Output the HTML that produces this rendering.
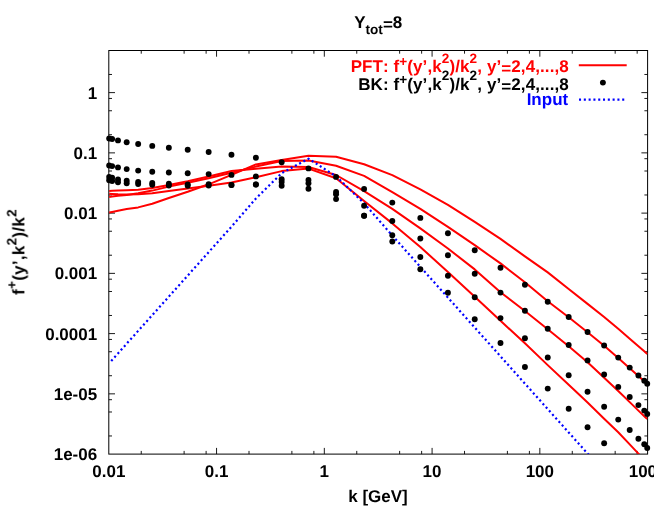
<!DOCTYPE html>
<html><head><meta charset="utf-8"><title>plot</title>
<style>html,body{margin:0;padding:0;background:#fff;}body{width:654px;height:506px;overflow:hidden;position:relative;font-family:"Liberation Sans",sans-serif;}</style>
</head><body>
<svg width="654" height="506" viewBox="0 0 654 506" style="position:absolute;left:0;top:0">
<defs><clipPath id="c"><rect x="108.80" y="50.50" width="538.80" height="403.60"/></clipPath></defs>
<rect x="108.8" y="50.5" width="538.80" height="403.60" fill="none" stroke="#000" stroke-width="1"/>
<path d="M141.24 454.1 v-3.2 M141.24 50.5 v3.2 M184.12 454.1 v-3.2 M184.12 50.5 v3.2 M206.12 454.1 v-3.2 M206.12 50.5 v3.2 M216.56 454.1 v-6.2 M216.56 50.5 v6.2 M249.00 454.1 v-3.2 M249.00 50.5 v3.2 M291.88 454.1 v-3.2 M291.88 50.5 v3.2 M313.88 454.1 v-3.2 M313.88 50.5 v3.2 M324.32 454.1 v-6.2 M324.32 50.5 v6.2 M356.76 454.1 v-3.2 M356.76 50.5 v3.2 M399.64 454.1 v-3.2 M399.64 50.5 v3.2 M421.64 454.1 v-3.2 M421.64 50.5 v3.2 M432.08 454.1 v-6.2 M432.08 50.5 v6.2 M464.52 454.1 v-3.2 M464.52 50.5 v3.2 M507.40 454.1 v-3.2 M507.40 50.5 v3.2 M529.40 454.1 v-3.2 M529.40 50.5 v3.2 M539.84 454.1 v-6.2 M539.84 50.5 v6.2 M572.28 454.1 v-3.2 M572.28 50.5 v3.2 M615.16 454.1 v-3.2 M615.16 50.5 v3.2 M637.16 454.1 v-3.2 M637.16 50.5 v3.2 M108.8 435.96 h3.2 M647.6 435.96 h-3.2 M108.8 411.99 h3.2 M647.6 411.99 h-3.2 M108.8 399.69 h3.2 M647.6 399.69 h-3.2 M108.8 393.85 h6.2 M647.6 393.85 h-6.2 M108.8 375.72 h3.2 M647.6 375.72 h-3.2 M108.8 351.74 h3.2 M647.6 351.74 h-3.2 M108.8 339.44 h3.2 M647.6 339.44 h-3.2 M108.8 333.60 h6.2 M647.6 333.60 h-6.2 M108.8 315.47 h3.2 M647.6 315.47 h-3.2 M108.8 291.49 h3.2 M647.6 291.49 h-3.2 M108.8 279.19 h3.2 M647.6 279.19 h-3.2 M108.8 273.36 h6.2 M647.6 273.36 h-6.2 M108.8 255.22 h3.2 M647.6 255.22 h-3.2 M108.8 231.24 h3.2 M647.6 231.24 h-3.2 M108.8 218.95 h3.2 M647.6 218.95 h-3.2 M108.8 213.11 h6.2 M647.6 213.11 h-6.2 M108.8 194.97 h3.2 M647.6 194.97 h-3.2 M108.8 171.00 h3.2 M647.6 171.00 h-3.2 M108.8 158.70 h3.2 M647.6 158.70 h-3.2 M108.8 152.86 h6.2 M647.6 152.86 h-6.2 M108.8 134.72 h3.2 M647.6 134.72 h-3.2 M108.8 110.75 h3.2 M647.6 110.75 h-3.2 M108.8 98.45 h3.2 M647.6 98.45 h-3.2 M108.8 92.61 h6.2 M647.6 92.61 h-6.2 M108.8 74.48 h3.2 M647.6 74.48 h-3.2" stroke="#000" stroke-width="0.9" fill="none"/>
<g clip-path="url(#c)" fill="none">
<path d="M109.17 212.40 L112.12 211.90 L117.98 210.80 L126.69 209.10 L138.16 207.40 L152.26 203.80 L168.84 198.00 L187.71 191.80 L208.66 184.30 L231.47 174.80 L255.89 164.40 L281.66 159.90 L308.47 155.80 L336.06 156.80 L364.10 164.30 L392.30 175.10 L420.34 189.40 L447.93 204.80 L474.74 221.90 L500.51 238.90 L524.93 256.40 L547.74 272.40 L568.69 289.00 L587.56 303.90 L604.14 317.00 L618.24 328.80 L629.71 338.70 L638.42 346.30 L644.28 351.30 L647.23 353.90" stroke="#ff0000" stroke-width="2" stroke-linejoin="round"/>
<path d="M109.17 196.90 L112.12 196.50 L117.98 195.70 L126.69 194.90 L138.16 193.30 L152.26 190.60 L168.84 186.60 L187.71 182.70 L208.66 178.20 L231.47 172.80 L255.89 166.60 L281.66 161.10 L308.47 160.40 L336.06 165.70 L364.10 175.90 L392.30 192.10 L420.34 208.80 L447.93 226.90 L474.74 245.20 L500.51 263.40 L524.93 282.20 L547.74 301.20 L568.69 317.20 L587.56 332.20 L604.14 345.70 L618.24 358.00 L629.71 368.20 L638.42 376.10 L644.28 381.30 L647.23 383.60" stroke="#ff0000" stroke-width="2" stroke-linejoin="round"/>
<path d="M109.17 190.90 L112.12 190.80 L117.98 190.60 L126.69 190.20 L138.16 189.70 L152.26 188.10 L168.84 185.00 L187.71 181.30 L208.66 176.50 L231.47 171.00 L255.89 168.80 L281.66 166.50 L308.47 167.00 L336.06 175.00 L364.10 191.10 L392.30 208.90 L420.34 228.40 L447.93 248.50 L474.74 269.40 L500.51 292.20 L524.93 311.00 L547.74 329.20 L568.69 346.20 L587.56 362.20 L604.14 377.80 L618.24 391.00 L629.71 402.10 L638.42 410.60 L644.28 416.30 L647.23 419.00" stroke="#ff0000" stroke-width="2" stroke-linejoin="round"/>
<path d="M109.17 193.70 L112.12 193.90 L117.98 194.30 L126.69 194.40 L138.16 194.30 L152.26 193.20 L168.84 191.00 L187.71 188.60 L208.66 185.70 L231.47 182.40 L255.89 177.30 L281.66 171.10 L308.47 168.60 L336.06 178.30 L364.10 201.00 L392.30 223.40 L420.34 247.00 L447.93 272.00 L474.74 296.80 L500.51 320.80 L524.93 343.30 L547.74 365.10 L568.69 384.70 L587.56 402.60 L604.14 418.70 L618.24 432.30 L629.71 444.40 L638.42 453.60 L644.28 459.80 L647.23 462.90" stroke="#ff0000" stroke-width="2" stroke-linejoin="round"/>
<path d="M111.20 360.98 L112.12 359.96 L117.98 353.41 L126.69 343.68 L138.16 330.88 L152.26 315.14 L168.84 296.63 L187.71 275.56 L208.66 252.17 L231.47 226.70 L255.89 198.50 L281.66 173.20 L308.47 158.70 L336.06 176.30 L364.10 203.30 L392.30 235.52 L420.34 266.83 L447.93 297.63 L474.74 327.57 L500.51 356.33 L524.93 383.60 L547.74 409.07 L568.69 432.47 L587.56 453.53 L604.14 472.04 L618.24 487.78 L629.71 500.59 L638.42 510.32 L644.28 516.86 L647.23 520.15" stroke="#0000ff" stroke-width="2.2" stroke-dasharray="2.05 2.75"/>
</g>
<g fill="#000"><circle cx="109.17" cy="138.50" r="2.95"/><circle cx="112.12" cy="139.00" r="2.95"/><circle cx="117.98" cy="140.40" r="2.95"/><circle cx="126.69" cy="142.20" r="2.95"/><circle cx="138.16" cy="144.00" r="2.95"/><circle cx="152.26" cy="145.90" r="2.95"/><circle cx="168.84" cy="147.80" r="2.95"/><circle cx="187.71" cy="149.70" r="2.95"/><circle cx="208.66" cy="152.00" r="2.95"/><circle cx="231.47" cy="154.70" r="2.95"/><circle cx="255.89" cy="157.80" r="2.95"/><circle cx="281.66" cy="162.20" r="2.95"/><circle cx="308.47" cy="168.40" r="2.95"/><circle cx="336.06" cy="176.90" r="2.95"/><circle cx="364.10" cy="189.00" r="2.95"/><circle cx="392.30" cy="202.60" r="2.95"/><circle cx="420.34" cy="217.90" r="2.95"/><circle cx="447.93" cy="233.20" r="2.95"/><circle cx="474.74" cy="250.30" r="2.95"/><circle cx="500.51" cy="267.80" r="2.95"/><circle cx="524.93" cy="284.70" r="2.95"/><circle cx="547.74" cy="301.70" r="2.95"/><circle cx="568.69" cy="317.00" r="2.95"/><circle cx="587.56" cy="332.00" r="2.95"/><circle cx="604.14" cy="345.50" r="2.95"/><circle cx="618.24" cy="357.60" r="2.95"/><circle cx="629.71" cy="367.60" r="2.95"/><circle cx="638.42" cy="375.50" r="2.95"/><circle cx="644.28" cy="380.80" r="2.95"/><circle cx="647.23" cy="383.80" r="2.95"/><circle cx="109.17" cy="165.50" r="2.95"/><circle cx="112.12" cy="166.10" r="2.95"/><circle cx="117.98" cy="167.40" r="2.95"/><circle cx="126.69" cy="169.10" r="2.95"/><circle cx="138.16" cy="170.60" r="2.95"/><circle cx="152.26" cy="171.70" r="2.95"/><circle cx="168.84" cy="172.50" r="2.95"/><circle cx="187.71" cy="173.30" r="2.95"/><circle cx="208.66" cy="174.10" r="2.95"/><circle cx="231.47" cy="174.90" r="2.95"/><circle cx="255.89" cy="176.40" r="2.95"/><circle cx="281.66" cy="179.20" r="2.95"/><circle cx="308.47" cy="180.00" r="2.95"/><circle cx="336.06" cy="192.00" r="2.95"/><circle cx="364.10" cy="205.70" r="2.95"/><circle cx="392.30" cy="221.00" r="2.95"/><circle cx="420.34" cy="238.50" r="2.95"/><circle cx="447.93" cy="255.20" r="2.95"/><circle cx="474.74" cy="273.80" r="2.95"/><circle cx="500.51" cy="292.60" r="2.95"/><circle cx="524.93" cy="310.70" r="2.95"/><circle cx="547.74" cy="328.70" r="2.95"/><circle cx="568.69" cy="345.00" r="2.95"/><circle cx="587.56" cy="360.40" r="2.95"/><circle cx="604.14" cy="374.50" r="2.95"/><circle cx="618.24" cy="386.90" r="2.95"/><circle cx="629.71" cy="397.00" r="2.95"/><circle cx="638.42" cy="405.10" r="2.95"/><circle cx="644.28" cy="410.60" r="2.95"/><circle cx="647.23" cy="414.00" r="2.95"/><circle cx="109.17" cy="176.90" r="2.95"/><circle cx="112.12" cy="177.80" r="2.95"/><circle cx="117.98" cy="179.40" r="2.95"/><circle cx="126.69" cy="180.70" r="2.95"/><circle cx="138.16" cy="181.90" r="2.95"/><circle cx="152.26" cy="182.90" r="2.95"/><circle cx="168.84" cy="183.80" r="2.95"/><circle cx="187.71" cy="184.40" r="2.95"/><circle cx="208.66" cy="184.30" r="2.95"/><circle cx="231.47" cy="185.00" r="2.95"/><circle cx="255.89" cy="184.50" r="2.95"/><circle cx="281.66" cy="182.00" r="2.95"/><circle cx="308.47" cy="183.30" r="2.95"/><circle cx="336.06" cy="194.20" r="2.95"/><circle cx="364.10" cy="215.70" r="2.95"/><circle cx="392.30" cy="235.20" r="2.95"/><circle cx="420.34" cy="257.00" r="2.95"/><circle cx="447.93" cy="275.80" r="2.95"/><circle cx="474.74" cy="297.20" r="2.95"/><circle cx="500.51" cy="318.10" r="2.95"/><circle cx="524.93" cy="338.20" r="2.95"/><circle cx="547.74" cy="357.50" r="2.95"/><circle cx="568.69" cy="375.30" r="2.95"/><circle cx="587.56" cy="391.80" r="2.95"/><circle cx="604.14" cy="406.70" r="2.95"/><circle cx="618.24" cy="419.60" r="2.95"/><circle cx="629.71" cy="430.00" r="2.95"/><circle cx="638.42" cy="438.80" r="2.95"/><circle cx="644.28" cy="444.30" r="2.95"/><circle cx="647.23" cy="448.00" r="2.95"/><circle cx="109.17" cy="180.30" r="2.95"/><circle cx="112.12" cy="181.00" r="2.95"/><circle cx="117.98" cy="182.20" r="2.95"/><circle cx="126.69" cy="183.20" r="2.95"/><circle cx="138.16" cy="184.00" r="2.95"/><circle cx="152.26" cy="184.80" r="2.95"/><circle cx="168.84" cy="185.50" r="2.95"/><circle cx="187.71" cy="185.70" r="2.95"/><circle cx="208.66" cy="185.60" r="2.95"/><circle cx="231.47" cy="185.00" r="2.95"/><circle cx="255.89" cy="184.50" r="2.95"/><circle cx="281.66" cy="185.80" r="2.95"/><circle cx="308.47" cy="188.70" r="2.95"/><circle cx="336.06" cy="199.10" r="2.95"/><circle cx="364.10" cy="215.70" r="2.95"/><circle cx="392.30" cy="241.50" r="2.95"/><circle cx="420.34" cy="269.20" r="2.95"/><circle cx="447.93" cy="292.80" r="2.95"/><circle cx="474.74" cy="319.20" r="2.95"/><circle cx="500.51" cy="343.00" r="2.95"/><circle cx="524.93" cy="367.00" r="2.95"/><circle cx="547.74" cy="388.60" r="2.95"/><circle cx="568.69" cy="408.80" r="2.95"/><circle cx="587.56" cy="427.20" r="2.95"/><circle cx="604.14" cy="443.30" r="2.95"/></g>
<path d="M578.8 65.2 H626.7" stroke="#ff0000" stroke-width="2" fill="none"/>
<circle cx="602.9" cy="82.6" r="2.95" fill="#000"/>
<path d="M579.0 99.7 H626.7" stroke="#0000ff" stroke-width="2.2" stroke-dasharray="2.05 2.75" fill="none"/>
<g font-family="Liberation Sans, sans-serif" font-weight="bold" font-size="17px" fill="#000" text-rendering="geometricPrecision" opacity="0.999">
<text x="97.2" y="98.61" text-anchor="end">1</text>
<text x="97.2" y="158.86" text-anchor="end">0.1</text>
<text x="97.2" y="219.11" text-anchor="end">0.01</text>
<text x="97.2" y="279.36" text-anchor="end">0.001</text>
<text x="97.2" y="339.60" text-anchor="end">0.0001</text>
<text x="97.2" y="399.85" text-anchor="end">1e-05</text>
<text x="97.2" y="460.10" text-anchor="end">1e-06</text>
<text x="108.80" y="476.7" text-anchor="middle">0.01</text>
<text x="216.56" y="476.7" text-anchor="middle">0.1</text>
<text x="324.32" y="476.7" text-anchor="middle">1</text>
<text x="432.08" y="476.7" text-anchor="middle">10</text>
<text x="539.84" y="476.7" text-anchor="middle">100</text>
<text x="647.60" y="476.7" text-anchor="middle">1000</text>
<text x="378" y="502.3" text-anchor="middle">k [GeV]</text>
<text x="354.2" y="28.2"><tspan>Y</tspan><tspan font-size="13.600000000000001px" dy="5.9">tot</tspan><tspan dy="-4.2">=</tspan><tspan dy="-1.7">8</tspan></text>
<text x="382.9" y="72.3" fill="#ff0000" text-anchor="end">PFT</text><text x="382.9" y="72.3" fill="#ff0000" textLength="185.9" lengthAdjust="spacing">: f<tspan font-size="13.600000000000001px" dy="-6.3">+</tspan><tspan dy="6.3">(y’,k</tspan><tspan font-size="13.600000000000001px" dy="-9.8">2</tspan><tspan dy="9.8">)/k</tspan><tspan font-size="13.600000000000001px" dy="-9.8">2</tspan><tspan dy="9.8">, y’</tspan><tspan dy="2">=</tspan><tspan dy="-2">2,4,...,8</tspan></text>
<text x="382.9" y="90" fill="#000000" text-anchor="end">BK</text><text x="382.9" y="90" fill="#000000" textLength="185.9" lengthAdjust="spacing">: f<tspan font-size="13.600000000000001px" dy="-6.3">+</tspan><tspan dy="6.3">(y’,k</tspan><tspan font-size="13.600000000000001px" dy="-9.8">2</tspan><tspan dy="9.8">)/k</tspan><tspan font-size="13.600000000000001px" dy="-9.8">2</tspan><tspan dy="9.8">, y’</tspan><tspan dy="2">=</tspan><tspan dy="-2">2,4,...,8</tspan></text>
<text x="568.2" y="105" text-anchor="end" fill="#0000ff">Input</text>
<text transform="translate(24.4,294.9) rotate(-90)" textLength="85.6" lengthAdjust="spacing">f<tspan font-size="13.600000000000001px" dy="-7.6">+</tspan><tspan dy="7.6">(y’,k</tspan><tspan font-size="13.600000000000001px" dy="-8.4">2</tspan><tspan dy="8.4">)/k</tspan><tspan font-size="13.600000000000001px" dy="-8.4">2</tspan></text>
</g>
</svg>
</body></html>
